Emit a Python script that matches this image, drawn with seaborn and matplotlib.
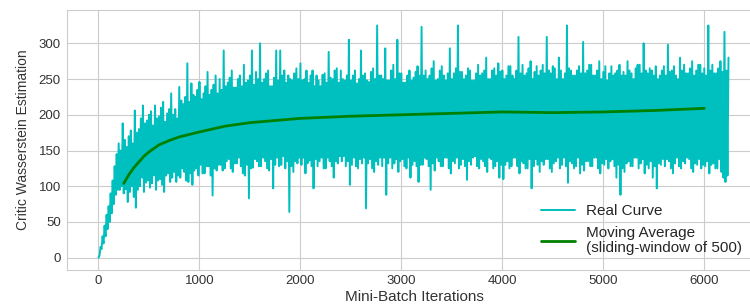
import numpy as np
import matplotlib
matplotlib.use("Agg")
import matplotlib.pyplot as plt
import seaborn as sns

# Local peaks of the raw critic curve, one every 20 iterations (0 .. 6240)
peak_vals = [
    0, 15, 30, 45, 60, 72, 90, 108, 128, 145, 160, 150, 188, 165, 155, 170, 178, 160, 206, 175,
    180, 195, 213, 188, 192, 200, 205, 185, 213, 195, 198, 210, 218, 190, 202, 208, 230, 200, 208, 195,
    239, 220, 215, 225, 272, 218, 244, 228, 225, 235, 246, 222, 230, 240, 260, 228, 235, 242, 255, 230,
    250, 235, 290, 240, 245, 252, 262, 238, 238, 250, 255, 240, 270, 245, 248, 255, 290, 242, 260, 250,
    300, 245, 250, 258, 262, 240, 240, 252, 290, 248, 290, 255, 262, 245, 255, 250, 248, 258, 265, 250,
    272, 248, 250, 262, 245, 255, 262, 240, 255, 248, 240, 256, 258, 245, 288, 252, 250, 262, 265, 245,
    262, 250, 248, 255, 305, 248, 255, 262, 244, 250, 290, 255, 258, 248, 246, 260, 265, 250, 325, 255,
    255, 250, 293, 248, 248, 262, 270, 250, 305, 258, 258, 245, 245, 255, 262, 248, 252, 260, 268, 255,
    323, 255, 262, 250, 255, 265, 275, 248, 250, 262, 268, 255, 248, 258, 293, 250, 258, 265, 325, 260,
    260, 250, 255, 265, 262, 248, 248, 258, 270, 255, 258, 262, 280, 250, 250, 262, 265, 255, 272, 260,
    262, 250, 255, 268, 268, 255, 250, 262, 309, 258, 270, 255, 258, 265, 275, 250, 260, 268, 255, 262,
    270, 258, 309, 262, 258, 268, 265, 250, 280, 262, 250, 258, 325, 265, 262, 255, 255, 262, 268, 258,
    302, 258, 262, 270, 270, 255, 255, 262, 275, 250, 260, 268, 248, 258, 268, 255, 258, 262, 270, 255,
    260, 255, 275, 262, 258, 250, 265, 270, 270, 258, 300, 262, 258, 265, 262, 255, 268, 250, 255, 262,
    268, 255, 298, 260, 262, 268, 255, 250, 280, 262, 270, 258, 258, 265, 275, 255, 262, 270, 270, 258,
    265, 255, 325, 262, 270, 258, 258, 265, 275, 260, 316, 262, 280,
]
# Local troughs in between, one every 20 iterations (10 .. 6230)
trough_vals = [
    3, 12, 20, 30, 40, 50, 62, 75, 88, 95, 95, 100, 90, 96, 78, 92, 100, 85, 70, 95,
    100, 112, 92, 105, 108, 98, 104, 115, 95, 108, 110, 102, 92, 115, 118, 106, 112, 120, 106, 115,
    112, 125, 120, 108, 106, 118, 102, 122, 125, 115, 130, 118, 118, 128, 128, 115, 87, 125, 122, 130,
    130, 122, 125, 135, 138, 125, 120, 132, 132, 140, 128, 118, 115, 130, 83, 125, 126, 138, 135, 128,
    128, 140, 135, 125, 122, 138, 97, 130, 140, 128, 130, 142, 125, 135, 64, 128, 120, 135, 132, 140,
    130, 140, 118, 132, 136, 128, 97, 138, 128, 135, 140, 125, 125, 140, 135, 128, 112, 135, 132, 142,
    135, 142, 128, 135, 102, 130, 140, 128, 125, 138, 132, 140, 69, 132, 138, 125, 120, 135, 130, 140,
    128, 140, 88, 132, 140, 125, 132, 138, 120, 135, 138, 128, 125, 140, 112, 130, 135, 128, 106, 130,
    130, 140, 138, 128, 95, 132, 122, 140, 135, 128, 128, 140, 140, 125, 118, 135, 132, 140, 125, 130,
    138, 128, 109, 135, 130, 140, 142, 128, 125, 138, 135, 128, 120, 140, 138, 125, 128, 135, 112, 130,
    110, 130, 135, 125, 128, 140, 140, 128, 118, 135, 132, 125, 125, 138, 97, 128, 138, 130, 120, 135,
    130, 138, 138, 125, 120, 132, 135, 140, 125, 130, 140, 128, 105, 135, 132, 125, 128, 140, 118, 130,
    122, 135, 135, 128, 128, 140, 140, 125, 118, 132, 130, 138, 125, 135, 138, 128, 112, 130, 88, 125,
    120, 132, 135, 128, 128, 140, 140, 125, 132, 138, 118, 130, 125, 135, 112, 128, 97, 132, 130, 138,
    128, 138, 135, 125, 118, 132, 140, 128, 125, 135, 132, 140, 138, 125, 120, 132, 130, 138, 125, 130,
    128, 135, 118, 130, 132, 125, 125, 138, 120, 112, 106, 115,
]

# Moving average (sliding window of 500)
ma_iters = [250, 300, 350, 400, 450, 500, 600, 700, 800, 1000, 1250, 1500,
            2000, 2500, 3000, 3500, 4000, 4500, 5000, 5500, 6000]
ma_vals = [104, 116, 126, 134, 142, 148, 158, 164, 169, 176, 184, 189,
           195, 198, 200, 202, 204, 203, 204, 206, 209]

peak_iters = np.arange(len(peak_vals)) * 20
trough_iters = np.arange(len(trough_vals)) * 20 + 10
raw_iters = np.concatenate([peak_iters, trough_iters])
raw_vals = np.concatenate([peak_vals, trough_vals])
order = np.argsort(raw_iters)
raw_iters, raw_vals = raw_iters[order], raw_vals[order]

sns.set_style("whitegrid")
plt.rcParams['font.family'] = ['Liberation Sans', 'DejaVu Sans']

fig = plt.figure(figsize=(7.5, 3.07), dpi=100)
ax = fig.add_axes([67 / 750, 37.5 / 307, 694 / 750, 259.4 / 307])

sns.lineplot(x=raw_iters, y=raw_vals, color='c', lw=1.4, estimator=None,
             label='Real Curve', ax=ax)
sns.lineplot(x=ma_iters, y=ma_vals, color='g', lw=2, estimator=None,
             label='Moving Average\n(sliding-window of 500)', ax=ax)

ax.set_xlim(-312, 6562)
ax.set_ylim(-16.5, 346.5)
ax.set_xticks(range(0, 7000, 1000))
ax.set_yticks(range(0, 350, 50))
ax.tick_params(axis='both', length=0, labelsize=9.5, colors='.2')
ax.tick_params(axis='x', pad=4)
ax.tick_params(axis='y', pad=4.5)
ax.set_xlabel('Mini-Batch Iterations', fontsize=11, color='.2', labelpad=2)
ax.set_ylabel('Critic Wasserstein Estimation', fontsize=10, color='.2', labelpad=6)

leg = ax.legend(loc='lower left', bbox_to_anchor=(541 / 750, 52 / 307),
                bbox_transform=fig.transFigure, frameon=False, fontsize=11,
                borderpad=0, borderaxespad=0, handlelength=2.2,
                handletextpad=0.75, labelspacing=0.55)
for t in leg.get_texts():
    t.set_linespacing(1.05)

fig.savefig('out.png', dpi=100)
